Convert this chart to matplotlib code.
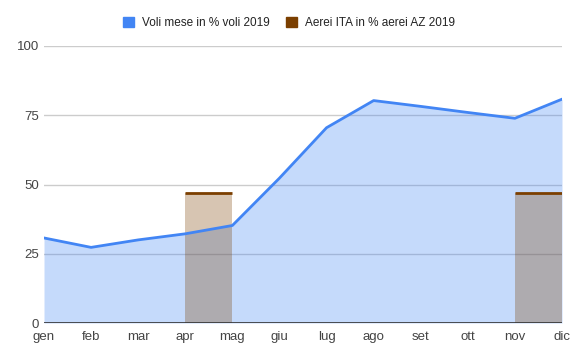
import matplotlib
matplotlib.use("Agg")
import matplotlib.pyplot as plt
from matplotlib.patches import Patch
import numpy as np

mesi = ["gen", "feb", "mar", "apr", "mag", "giu", "lug", "ago", "set", "ott", "nov", "dic"]
voli = [30.7, 27.3, 30.0, 32.2, 35.2, 52.3, 70.5, 80.3, 78.2, 76.0, 73.9, 80.8]
aerei = [None, None, None, 47.0, None, None, None, None, None, None, 47.0, None]
yticks = [0, 25, 50, 75, 100]

blu = "#4285f4"
marrone = "#7b3f00"

plt.rcParams["font.family"] = ["Liberation Sans", "DejaVu Sans"]

fig = plt.figure(figsize=(5.8, 3.59), dpi=100)
ax = fig.add_axes([44 / 580, 36 / 359, 518 / 580, 277 / 359])

x = np.arange(len(mesi))

# griglia sotto le aree
for t in yticks[1:]:
    ax.axhline(t, color="#cccccc", lw=1, zorder=0)

ax.fill_between(x, 0, voli, color=blu, alpha=0.3, lw=0, zorder=1)

# area a gradini (valore del mese vale fino al mese dopo)
for i, v in enumerate(aerei):
    if v is None or i + 1 >= len(x):
        continue
    ax.fill_between([x[i], x[i + 1]], 0, [v, v], color=marrone, alpha=0.3, lw=0, zorder=2)
    ax.plot([x[i], x[i + 1]], [v, v], color=marrone, lw=2, zorder=3, solid_capstyle="butt")

ax.plot(x, voli, color=blu, lw=2, zorder=4)
ax.axhline(0, color="#333333", lw=1.2, zorder=5)

ax.set_xlim(0, len(mesi) - 1)
ax.set_ylim(0, 100)
ax.set_xticks(x)
ax.set_xticklabels(mesi)
ax.set_yticks(yticks)
ax.tick_params(length=0, labelsize=9.5, colors="#444444")
ax.tick_params(axis="x", pad=6)
ax.tick_params(axis="y", pad=3.5)
for s in ax.spines.values():
    s.set_visible(False)

handles = [Patch(color=blu), Patch(color=marrone)]
fig.legend(handles, ["Voli mese in % voli 2019", "Aerei ITA in % aerei AZ 2019"],
           loc="center", bbox_to_anchor=(289 / 580, 1 - 23 / 359), ncol=2, frameon=False,
           fontsize=8.5, handlelength=0.93, handleheight=0.93, columnspacing=1.35,
           handletextpad=0.68, labelcolor="#222222", borderpad=0, borderaxespad=0)

fig.savefig("out.png", dpi=100)
